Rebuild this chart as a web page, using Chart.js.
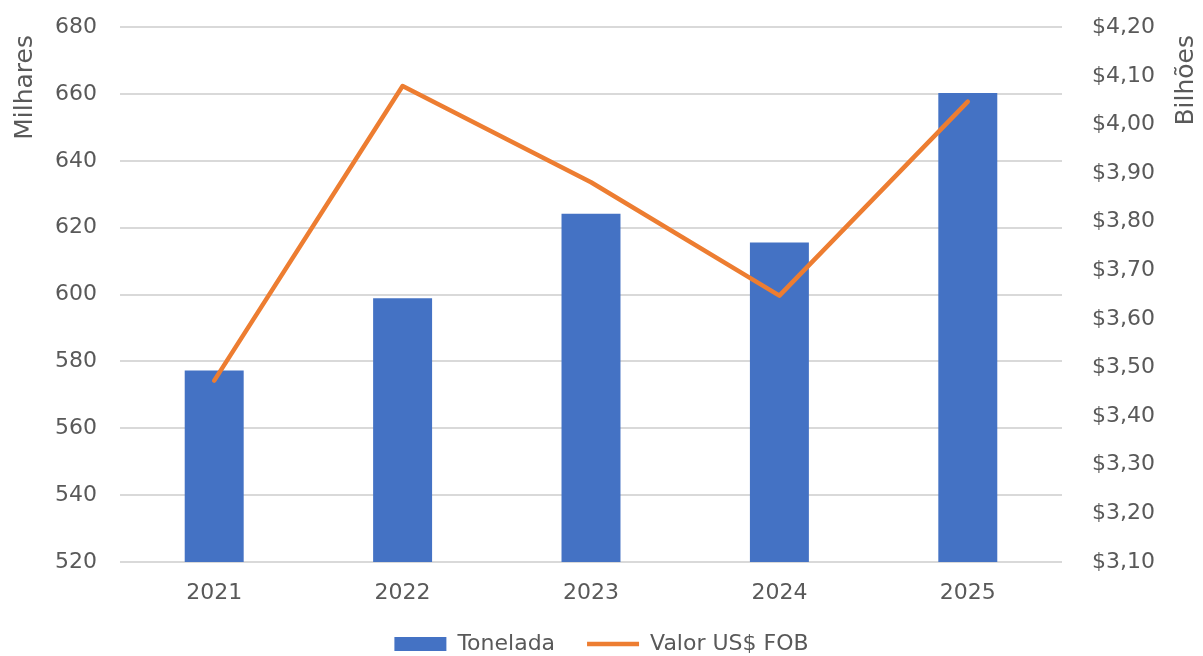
<!doctype html>
<html>
<head>
<meta charset="utf-8"/>
<title>Tonelada x Valor US$ FOB</title>
<script src="https://cdn.jsdelivr.net/npm/chart.js@4.4.1/dist/chart.umd.min.js"></script>
<style>
  html, body { margin: 0; padding: 0; background: #fff; }
  #wrap { position: relative; width: 1203px; height: 656px; }
</style>
</head>
<body>
<div id="wrap"><canvas id="myChart"></canvas></div>
<script>
// data
var anos = ['2021', '2022', '2023', '2024', '2025'];
var toneladas = [577.3, 598.9, 624.2, 615.6, 660.3];   // milhares
var valorFob = [3.473, 4.079, 3.881, 3.648, 4.047];    // bilhoes US$
var eixoEsq = { min: 520, max: 680, step: 20 };
var eixoDir = { min: 3.1, max: 4.2, step: 0.1 };

var corTexto = '#595959';
var fonte = "'DejaVu Sans', sans-serif";

// axis titles, both rotated bottom-to-top and aligned to the top
var titulosEixos = {
  id: 'titulosEixos',
  afterDraw: function(chart) {
    var ctx = chart.ctx;
    var desenha = function(txt, x, y) {
      ctx.save();
      ctx.translate(x, y);
      ctx.rotate(-Math.PI / 2);
      ctx.font = '25px ' + fonte;
      ctx.fillStyle = corTexto;
      ctx.textAlign = 'right';
      ctx.textBaseline = 'middle';
      ctx.fillText(txt, 0, 0);
      ctx.restore();
    };
    desenha('Milhares', chart.scales.y.left + 25, 35);
    desenha('Bilhões', chart.scales.y1.right - 17, 35);
  }
};

var myChart = new Chart(document.getElementById('myChart'), {
  type: 'bar',
  data: {
    labels: anos,
    datasets: [{
      type: 'bar',
      label: 'Tonelada',
      data: toneladas,
      yAxisID: 'y',
      backgroundColor: '#4472C4',
      barPercentage: 0.313,
      categoryPercentage: 1,
      order: 2
    }, {
      type: 'line',
      label: 'Valor US$ FOB',
      data: valorFob,
      yAxisID: 'y1',
      borderColor: '#ED7D31',
      backgroundColor: '#ED7D31',
      borderWidth: 4.5,
      borderCapStyle: 'round',
      borderJoinStyle: 'round',
      pointRadius: 0,
      tension: 0,
      order: 1
    }]
  },
  options: {
    responsive: true,
    maintainAspectRatio: false,
    animation: false,
    layout: { padding: { left: 0, right: 0, top: 0, bottom: -9 } },
    plugins: {
      tooltip: { enabled: false },
      legend: {
        position: 'bottom',
        labels: {
          color: corTexto,
          font: { family: fonte, size: 22 },
          usePointStyle: true,
          pointStyleWidth: 52,
          boxHeight: 14,
          padding: 4,
          sort: function(a, b) { return a.datasetIndex - b.datasetIndex; },
          generateLabels: function(chart) {
            var itens = Chart.defaults.plugins.legend.labels.generateLabels(chart);
            itens.forEach(function(it) {
              if (it.datasetIndex === 0) { it.pointStyle = 'rect'; it.lineWidth = 0; it.text = it.text + '    '; }
              else { it.pointStyle = 'line'; it.lineWidth = 4.5; it.strokeStyle = '#ED7D31'; }
            });
            return itens;
          }
        }
      }
    },
    scales: {
      x: {
        grid: { display: false },
        border: { display: false },
        ticks: { color: corTexto, font: { family: fonte, size: 22 }, padding: 10 },
        afterFit: function(s) { s.height = 67; }
      },
      y: {
        position: 'left',
        min: eixoEsq.min,
        max: eixoEsq.max,
        border: { display: false },
        grid: { color: '#d9d9d9', lineWidth: 2, drawTicks: true, tickLength: 9, tickColor: 'rgba(0,0,0,0)' },
        ticks: { stepSize: eixoEsq.step, color: corTexto, font: { family: fonte, size: 22 }, padding: 14 },
        afterFit: function(s) { s.width = 120; }
      },
      y1: {
        position: 'right',
        min: eixoDir.min,
        max: eixoDir.max,
        border: { display: false },
        grid: { display: true, drawOnChartArea: false, drawTicks: true, tickLength: 16, tickColor: 'rgba(0,0,0,0)' },
        ticks: {
          stepSize: eixoDir.step,
          color: corTexto,
          font: { family: fonte, size: 22 },
          padding: 14,
          callback: function(v) { return '$' + v.toFixed(2).replace('.', ','); }
        },
        afterFit: function(s) { s.width = 141; }
      }
    }
  },
  plugins: [titulosEixos]
});
</script>
</body>
</html>
